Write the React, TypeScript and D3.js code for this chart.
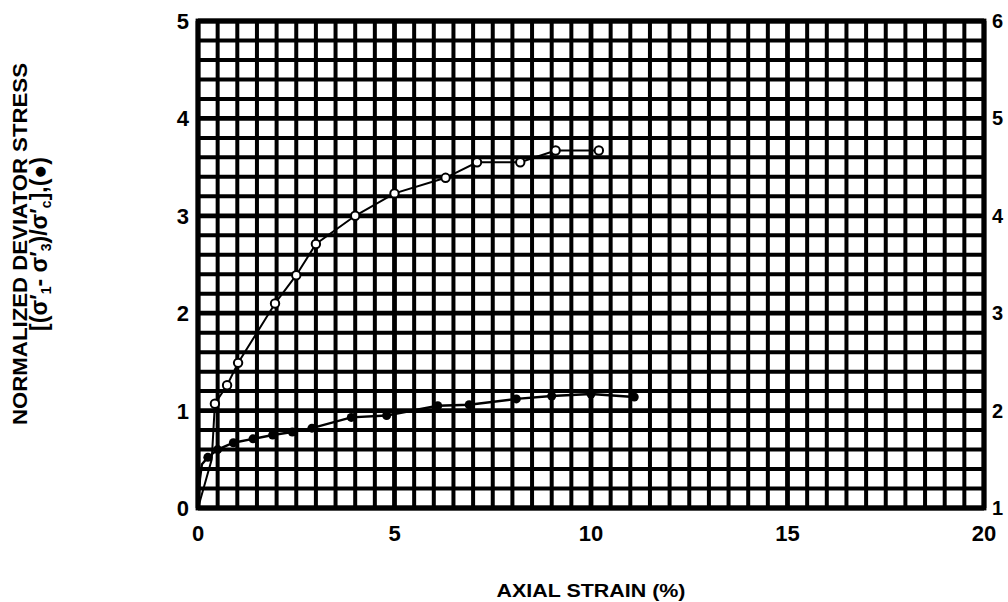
import React from "react";
import * as d3 from "d3";

// Axial strain (%) and normalized deviator stress (filled dots, left axis)
const filledStrain = [0, 0.05, 0.1, 0.25, 0.5, 0.9, 1.4, 1.9, 2.4, 2.9, 3.9, 4.8, 6.1, 6.9, 8.1, 9.0, 10.0, 11.1];
const filledStress = [0, 0.3, 0.45, 0.52, 0.6, 0.67, 0.71, 0.75, 0.78, 0.82, 0.93, 0.95, 1.05, 1.06, 1.12, 1.15, 1.17, 1.14];
const filledMarked = [false, false, false, true, true, true, true, true, true, true, true, true, true, true, true, true, true, true];

// Open circles, right axis (1..6)
const openStrain = [0, 0.35, 0.43, 0.74, 1.02, 1.96, 2.5, 3.0, 4.0, 5.0, 6.3, 7.1, 8.2, 9.1, 10.2];
const openValue = [1.0, 1.5, 2.07, 2.26, 2.49, 3.1, 3.39, 3.71, 4.0, 4.23, 4.39, 4.55, 4.55, 4.67, 4.67];
const openMarked = [false, false, true, true, true, true, true, true, true, true, true, true, true, true, true];

const xTicks = [0, 5, 10, 15, 20];
const yLeftTicks = [0, 1, 2, 3, 4, 5];
const yRightTicks = [1, 2, 3, 4, 5, 6];

const W = 1008;
const H = 602;
const FONT = "'Liberation Sans', Arial, Helvetica, sans-serif";

export default function App() {
  const x = d3.scaleLinear().domain([0, 20]).range([198, 984]);
  const y = d3.scaleLinear().domain([0, 5]).range([508, 21]);
  const yR = d3.scaleLinear().domain([1, 6]).range([508, 21]);

  const xMinor = d3.range(0, 20.001, 0.5);
  const yMinor = d3.range(0, 5.001, 0.2);

  const filledPts: [number, number][] = filledStrain.map((s, i) => [x(s), y(filledStress[i])]);
  const openPts: [number, number][] = openStrain.map((s, i) => [x(s), yR(openValue[i])]);
  const line = d3.line();

  return (
    <div style={{ position: "absolute", left: 0, top: 0 }}>
      <svg width={W} height={H} style={{ display: "block", background: "#fff" }}>
        <rect x={0} y={0} width={W} height={H} fill="#fff" />
        {/* grid */}
        <g stroke="#000">
          {xMinor.map((v, i) => {
            const major = Math.abs(v % 5) < 1e-6;
            return (
              <line key={"vx" + i} x1={x(v)} x2={x(v)} y1={y(0)} y2={y(5)} strokeWidth={major ? 4.8 : 4} />
            );
          })}
          {yMinor.map((v, i) => {
            const major = Math.abs(v - Math.round(v)) < 1e-6;
            return (
              <line key={"hy" + i} x1={x(0)} x2={x(20)} y1={y(v)} y2={y(v)} strokeWidth={major ? 4.8 : 4} />
            );
          })}
          <rect x={x(0)} y={y(5)} width={x(20) - x(0)} height={y(0) - y(5)} fill="none" strokeWidth={4.8} />
        </g>

        {/* data */}
        <path d={line(filledPts) || ""} fill="none" stroke="#000" strokeWidth={2.4} />
        <path d={line(openPts) || ""} fill="none" stroke="#000" strokeWidth={2} />
        {filledPts.map((p, i) =>
          filledMarked[i] ? <circle key={"f" + i} cx={p[0]} cy={p[1]} r={4.5} fill="#000" /> : null
        )}
        {openPts.map((p, i) =>
          openMarked[i] ? (
            <circle key={"o" + i} cx={p[0]} cy={p[1]} r={4.2} fill="#fff" stroke="#000" strokeWidth={2} />
          ) : null
        )}

        {/* tick labels */}
        <g fontFamily={FONT} fontWeight="bold" fontSize={22} fill="#000">
          {xTicks.map((t) => (
            <text key={"xt" + t} x={x(t)} y={541} textAnchor="middle">
              {t}
            </text>
          ))}
          {yLeftTicks.map((t) => (
            <text key={"yl" + t} x={189} y={y(t) + 8} textAnchor="end">
              {t}
            </text>
          ))}
        </g>
        <g fontFamily={FONT} fontWeight="bold" fontSize={20} fill="#000">
          {yRightTicks.map((t) => (
            <text key={"yr" + t} x={992} y={yR(t) + 7} textAnchor="start">
              {t}
            </text>
          ))}
        </g>

        {/* axis titles */}
        <text
          x={591}
          y={597}
          textAnchor="middle"
          fontFamily={FONT}
          fontWeight="bold"
          fontSize={19}
          textLength={189}
          lengthAdjust="spacingAndGlyphs"
        >
          AXIAL STRAIN (%)
        </text>
        <g transform="translate(27,244) rotate(-90)" fontFamily={FONT} fontWeight="bold" fill="#000">
          <text x={0} y={0} textAnchor="middle" fontSize={20} textLength={362} lengthAdjust="spacingAndGlyphs">
            NORMALIZED DEVIATOR STRESS
          </text>
          <text x={0} y={20} textAnchor="middle" fontSize={23}>
            [(σ′
            <tspan fontSize={14} dy={4}>1</tspan>
            <tspan dy={-4}>- σ′</tspan>
            <tspan fontSize={14} dy={4}>3</tspan>
            <tspan dy={-4}>)/σ′</tspan>
            <tspan fontSize={14} dy={4}>c</tspan>
            <tspan dy={-4}>],(●)</tspan>
          </text>
        </g>
      </svg>
    </div>
  );
}
